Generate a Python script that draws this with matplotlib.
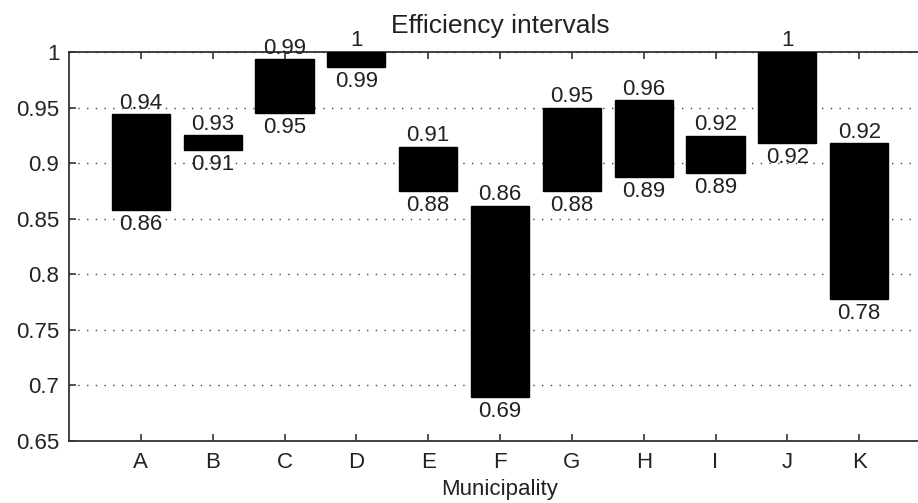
import matplotlib
matplotlib.use("Agg")
import matplotlib.pyplot as plt
import numpy as np

plt.rcParams['font.family'] = ['Liberation Sans', 'DejaVu Sans']

municipalities = ["A", "B", "C", "D", "E", "F", "G", "H", "I", "J", "K"]
eff_low = [0.858, 0.9118, 0.9451, 0.9868, 0.8751, 0.6899, 0.8751, 0.8878, 0.8914, 0.9184, 0.7775]
eff_high = [0.944, 0.9251, 0.9934, 1.0, 0.9148, 0.8617, 0.9499, 0.9565, 0.9244, 1.0, 0.9179]
yticks = [0.65, 0.7, 0.75, 0.8, 0.85, 0.9, 0.95, 1.0]
ytick_labels = ["0.65", "0.7", "0.75", "0.8", "0.85", "0.9", "0.95", "1"]


def fmt(v):
    return "%g" % round(v, 2)


fig = plt.figure(figsize=(9.18, 5.03), dpi=100)
ax = fig.add_axes([0.0752, 0.1233, 0.939, 0.7734])

x = np.arange(1, len(municipalities) + 1)
low = np.array(eff_low)
high = np.array(eff_high)
ax.bar(x, high - low, bottom=low, width=0.81, color="black", edgecolor="black", zorder=3)

fs = 16
tc = "#222222"
for xi, lo, hi in zip(x, low, high):
    ax.annotate(fmt(hi), (xi, hi), xytext=(0, 4.0), textcoords="offset points",
                ha="center", va="baseline", fontsize=fs, color=tc, zorder=4)
    ax.annotate(fmt(lo), (xi, lo), xytext=(0, -14.4), textcoords="offset points",
                ha="center", va="baseline", fontsize=fs, color=tc, zorder=4)

ax.set_xlim(0, 12)
ax.set_ylim(0.65, 1.0)
ax.set_xticks(x)
ax.set_xticklabels(municipalities, fontsize=fs, color=tc)
ax.set_yticks(yticks)
ax.set_yticklabels(ytick_labels, fontsize=fs, color=tc)
ax.tick_params(axis="x", pad=8)
ax.tick_params(axis="y", pad=7)
ax.tick_params(direction="in", length=5, width=1.2, top=True, right=True, color="#333333")
for s in ax.spines.values():
    s.set_linewidth(1.3)
    s.set_color("#333333")

ax.yaxis.grid(True, linestyle=(0, (1, 5.3)), color="#444444", linewidth=1.0, zorder=1)
ax.set_axisbelow(True)

ax.set_title("Efficiency intervals", fontsize=19, color=tc, pad=14)
ax.set_xlabel("Municipality", fontsize=16, color=tc, labelpad=4)

fig.savefig("out.png", dpi=100)
